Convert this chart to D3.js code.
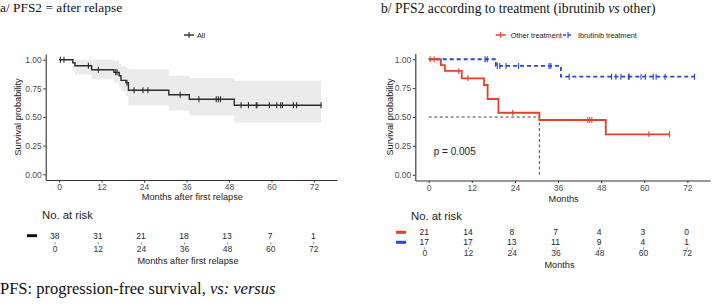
<!DOCTYPE html>
<html>
<head>
<meta charset="utf-8">
<script src="https://cdn.jsdelivr.net/npm/d3@7"></script>
<style>
  body { margin: 0; background: #fff; }
  svg text { font-family: "Liberation Sans", Arial, sans-serif; }
  .serif { font-family: "Liberation Serif", "Times New Roman", serif !important; }
</style>
</head>
<body>
<div id="chart"></div>
<script>
// ---- data ----
var monthTicks = [0, 12, 24, 36, 48, 60, 72];

// a/ all patients
var allTimes = [0, 3.9, 4.5, 9.2, 15.5, 17.0, 17.5, 18.9, 19.6, 31.0, 36.8, 49.5, 74];
var allSurv  = [1, 0.974, 0.947, 0.913, 0.89, 0.86, 0.82, 0.80, 0.733, 0.694, 0.655, 0.603, 0.603];
var allLower = [1, 0.90, 0.87, 0.83, 0.80, 0.76, 0.72, 0.68, 0.60, 0.557, 0.513, 0.449, 0.449];
var allUpper = [1, 1, 1, 1, 0.99, 0.96, 0.94, 0.93, 0.92, 0.86, 0.84, 0.816, 0.816];
var allCens  = [0.4, 1.4, 8.3, 11.1, 16.0, 16.4, 19.2, 21.2, 23.7, 25.1, 34.2, 39.5, 44.4, 45.0, 45.6,
                51.4, 53.5, 55.7, 55.9, 59.4, 61.5, 62.6, 63.1, 66.2, 67.1, 74];
var riskAll  = [38, 31, 21, 18, 13, 7, 1];

// b/ by treatment
var otherTimes = [0, 3.4, 4.5, 9.2, 15.4, 16.4, 19.4, 30.8, 49.3, 67];
var otherSurv  = [1, 0.95, 0.899, 0.835, 0.777, 0.656, 0.537, 0.474, 0.35, 0.35];
var otherCens  = [0.4, 1.5, 8.4, 10.9, 23.4, 44.3, 44.8, 45.4, 61.3, 67];
var ibruTimes  = [0, 18.7, 36.8, 74];
var ibruSurv   = [1, 0.942, 0.849, 0.849];
var ibruCens   = [15.7, 16.3, 19.1, 19.8, 21.5, 25, 33.5, 34, 39.1, 50.9, 52.1, 53.5, 55.6, 55.8,
                  59.1, 60.3, 62.5, 63.3, 65.8, 74];
var riskOther  = [21, 14, 8, 7, 4, 3, 0];
var riskIbru   = [17, 17, 13, 11, 9, 4, 1];
var medianTime = 30.8;
var pValueText = "p = 0.005";

var red = "#e5402a", blue = "#2746d6", dark = "#2b2b2b";

var svg = d3.select("#chart").append("svg")
    .attr("width", 713).attr("height", 307);

function survAt(times, surv, t) {
    var s = surv[0];
    for (var i = 0; i < times.length; i++) { if (times[i] <= t) s = surv[i]; }
    return s;
}

function drawAxes(x, y, xTitle, yTitleX, titleY) {
    var gx = svg.append("g")
        .attr("transform", "translate(0," + y.range()[0] + ")")
        .call(d3.axisBottom(x).tickValues(monthTicks).tickSize(2.5).tickSizeOuter(0).tickPadding(1.5));
    var gy = svg.append("g")
        .attr("transform", "translate(" + x.range()[0] + ",0)")
        .call(d3.axisLeft(y).tickValues([0, 0.25, 0.5, 0.75, 1]).tickFormat(d3.format(".2f"))
              .tickSize(2.5).tickSizeOuter(0).tickPadding(1.5));
    [gx, gy].forEach(function(g) {
        g.select(".domain").attr("stroke", "#333").attr("stroke-width", 1.1);
        g.selectAll(".tick line").attr("stroke", "#333");
        g.selectAll(".tick text").attr("fill", "#4d4d4d").style("font-size", "8.5px");
    });
    svg.append("text")
        .attr("x", (x.range()[0] + x.range()[1]) / 2 + 1).attr("y", titleY)
        .attr("dy", "0.35em").attr("text-anchor", "middle").style("font-size", "9.2px").attr("fill", "#222")
        .text(xTitle);
    var yMid = (y.range()[0] + y.range()[1]) / 2;
    svg.append("text")
        .attr("transform", "translate(" + yTitleX + "," + yMid + ") rotate(-90)")
        .attr("text-anchor", "middle").attr("dy", "0.35em")
        .style("font-size", "9.2px").attr("fill", "#222")
        .text("Survival probability");
}

function drawCurve(x, y, times, surv, cens, color, width, dash) {
    var pts = times.map(function(t, i) { return [t, surv[i]]; });
    svg.append("path")
        .attr("d", d3.line().curve(d3.curveStepAfter)
              .x(function(d) { return x(d[0]); }).y(function(d) { return y(d[1]); })(pts))
        .attr("fill", "none").attr("stroke", color).attr("stroke-width", width)
        .attr("stroke-dasharray", dash || null);
    svg.append("g").selectAll("line").data(cens).enter().append("line")
        .attr("x1", function(d) { return x(d); }).attr("x2", function(d) { return x(d); })
        .attr("y1", function(d) { return y(survAt(times, surv, d)) - 3; })
        .attr("y2", function(d) { return y(survAt(times, surv, d)) + 3; })
        .attr("stroke", color).attr("stroke-width", 1.1);
}

// risk table: o = {headY, rows, tickY, pad, titleY, markX}
function drawRisk(xr, o, xTitle) {
    svg.append("text").attr("x", o.markX + 15).attr("y", o.headY).attr("dy", "0.35em")
        .style("font-size", "11.3px").attr("fill", "#222").text("No. at risk");
    o.rows.forEach(function(r) {
        svg.append("line")
            .attr("x1", o.markX).attr("x2", o.markX + 10).attr("y1", r.y).attr("y2", r.y)
            .attr("stroke", r.color).attr("stroke-width", 3);
        svg.append("g").selectAll("text").data(r.values).enter().append("text")
            .attr("x", function(d, i) { return xr(monthTicks[i]); }).attr("y", r.y)
            .attr("dy", "0.35em").attr("text-anchor", "middle")
            .style("font-size", "8.5px").attr("fill", "#222")
            .text(function(d) { return d; });
    });
    var g = svg.append("g").attr("transform", "translate(0," + o.tickY + ")")
        .call(d3.axisBottom(xr).tickValues(monthTicks).tickSize(2).tickPadding(o.pad));
    g.select(".domain").remove();
    g.selectAll(".tick line").attr("stroke", "#888");
    g.selectAll(".tick text").attr("fill", "#333").style("font-size", "8.5px");
    svg.append("text")
        .attr("x", (xr.range()[0] + xr.range()[1]) / 2 + 4).attr("y", o.titleY)
        .attr("dy", "0.35em").attr("text-anchor", "middle").style("font-size", "9.2px").attr("fill", "#222")
        .text(xTitle);
}

// ---- panel a ----
var xa = d3.scaleLinear().domain([-3.76, 78.5]).range([45.7, 337]);
var ya = d3.scaleLinear().domain([-0.05, 1.05]).range([180, 54]);

svg.append("text").attr("class", "serif").attr("x", 0).attr("y", 12)
    .style("font-size", "13.4px").attr("fill", "#111").text("a/ PFS2 = after relapse");

var bandPts = allTimes.map(function(t, i) { return [t, allLower[i], allUpper[i]]; });
svg.append("path")
    .attr("d", d3.area().curve(d3.curveStepAfter)
          .x(function(d) { return xa(d[0]); })
          .y0(function(d) { return ya(d[1]); }).y1(function(d) { return ya(d[2]); })(bandPts))
    .attr("fill", "#ebebeb");

drawAxes(xa, ya, "Months after first relapse", 18, 196.7);
drawCurve(xa, ya, allTimes, allSurv, allCens, dark, 1.4);

// legend a
var la = svg.append("g").attr("transform", "translate(184,35)");
la.append("line").attr("x1", 0).attr("x2", 10).attr("stroke", dark).attr("stroke-width", 1.4);
la.append("line").attr("x1", 5).attr("x2", 5).attr("y1", -3).attr("y2", 3).attr("stroke", dark).attr("stroke-width", 1.1);
la.append("text").attr("x", 13).attr("dy", "0.35em").style("font-size", "7.3px").attr("fill", "#222").text("All");

var xra = d3.scaleLinear().domain([0, 72]).range([54.7, 313.3]);
drawRisk(xra, { headY: 215, markX: 27, tickY: 242.3, pad: 1.5, titleY: 260.7,
                rows: [{ values: riskAll, color: "#111", y: 235.7 }] },
         "Months after first relapse");

// ---- panel b ----
var xb = d3.scaleLinear().domain([-3.73, 78.3]).range([415.3, 710]);
var yb = d3.scaleLinear().domain([-0.05, 1.05]).range([180.5, 53.5]);

var tb = svg.append("text").attr("class", "serif").attr("x", 381).attr("y", 13)
    .style("font-size", "13.6px").attr("fill", "#111");
tb.append("tspan").text("b/ PFS2 according to treatment (ibrutinib ");
tb.append("tspan").style("font-style", "italic").text("vs");
tb.append("tspan").text(" other)");

drawAxes(xb, yb, "Months", 389.3, 198.3);

// median reference lines
svg.append("line")
    .attr("x1", xb(0)).attr("x2", xb(medianTime)).attr("y1", yb(0.5)).attr("y2", yb(0.5))
    .attr("stroke", "#333").attr("stroke-width", 0.9).attr("stroke-dasharray", "3,2.5");
svg.append("line")
    .attr("x1", xb(medianTime)).attr("x2", xb(medianTime)).attr("y1", yb(0.5)).attr("y2", yb(0))
    .attr("stroke", "#333").attr("stroke-width", 0.9).attr("stroke-dasharray", "3,2.5");

drawCurve(xb, yb, ibruTimes, ibruSurv, ibruCens, blue, 1.8, "4,3");
drawCurve(xb, yb, otherTimes, otherSurv, otherCens, red, 1.8);

svg.append("text").attr("x", xb(1.4)).attr("y", yb(0.2)).attr("dy", "0.35em")
    .style("font-size", "10px").attr("fill", "#222").text(pValueText);

// legend b
[{ x: 495.7, color: red, dash: null, label: "Other treatment" },
 { x: 563, color: blue, dash: "3,2", label: "Ibrutinib treatment" }].forEach(function(l) {
    var g = svg.append("g").attr("transform", "translate(" + l.x + ",35)");
    g.append("line").attr("x1", 0).attr("x2", 10).attr("stroke", l.color).attr("stroke-width", 1.5)
        .attr("stroke-dasharray", l.dash);
    g.append("line").attr("x1", 5).attr("x2", 5).attr("y1", -3).attr("y2", 3)
        .attr("stroke", l.color).attr("stroke-width", 1.1);
    g.append("text").attr("x", 15).attr("dy", "0.35em").style("font-size", "7.3px")
        .attr("fill", "#222").text(l.label);
});

var xrb = d3.scaleLinear().domain([0, 72]).range([424.3, 686.7]);
drawRisk(xrb, { headY: 216, markX: 396, tickY: 247.3, pad: 0.5, titleY: 265,
                rows: [{ values: riskOther, color: red, y: 232.3 },
                       { values: riskIbru, color: blue, y: 242.3 }] },
         "Months");

// ---- footnote ----
var fn = svg.append("text").attr("class", "serif").attr("x", 0).attr("y", 294)
    .style("font-size", "16.5px").attr("fill", "#111");
fn.append("tspan").text("PFS: progression-free survival, ");
fn.append("tspan").style("font-style", "italic").text("vs: versus");
</script>
</body>
</html>
